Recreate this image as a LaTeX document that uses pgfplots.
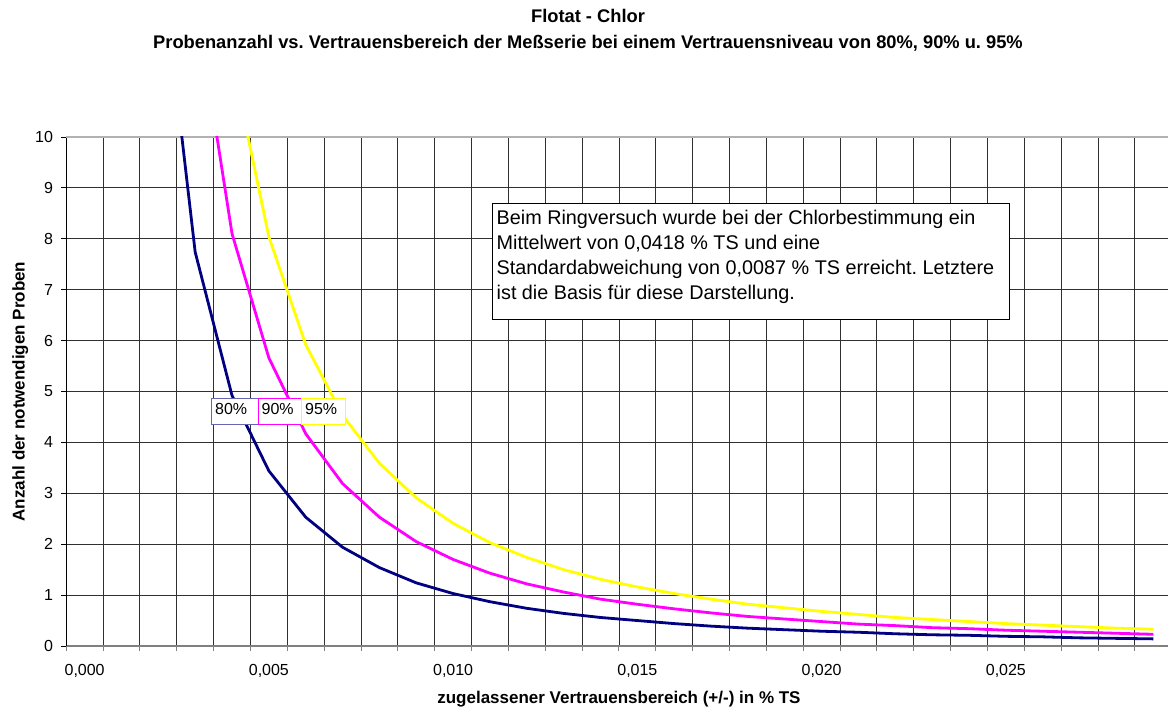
\documentclass[border=0pt]{standalone}
\usepackage{fontspec}
\setmainfont{Liberation Sans}
\usepackage{pgfplots}
\pgfplotsset{compat=1.18}
\usepackage{pgfplotstable}
\frenchspacing
\definecolor{navyc}{HTML}{000080}
\definecolor{magc}{HTML}{FF00FF}
\definecolor{yelc}{HTML}{FFFF00}
\definecolor{gridc}{HTML}{303030}

\pgfplotstableread{
E     n80   n90   n95
0.002 14.00 23.06 32.75
0.003 7.74  12.75 18.11
0.004 4.92  8.10  11.50
0.005 3.44  5.66  8.04
0.006 2.53  4.17  5.92
0.007 1.94  3.19  4.53
0.008 1.54  2.53  3.59
0.009 1.24  2.05  2.91
0.010 1.03  1.70  2.41
0.011 0.87  1.43  2.03
0.012 0.74  1.22  1.74
0.013 0.64  1.06  1.50
0.014 0.56  0.92  1.31
0.015 0.50  0.82  1.16
0.016 0.44  0.73  1.03
0.017 0.39  0.65  0.92
0.018 0.35  0.58  0.82
0.019 0.32  0.53  0.75
0.020 0.29  0.48  0.68
0.021 0.27  0.43  0.62
0.022 0.24  0.40  0.56
0.023 0.22  0.36  0.52
0.024 0.21  0.34  0.48
0.025 0.19  0.31  0.44
0.026 0.18  0.29  0.41
0.027 0.16  0.27  0.38
0.028 0.15  0.25  0.35
0.029 0.14  0.23  0.33
}\datatable

\begin{document}
\frenchspacing
\begin{tikzpicture}[x=1pt,y=1pt]
\path[use as bounding box] (0,0) rectangle (1168,711);
\begin{axis}[
  at={(66.2pt,65pt)}, anchor=south west,
  scale only axis, width=1105.5pt, height=509pt,
  xmin=-0.0005, xmax=0.0295, ymin=0, ymax=10,
  scaled x ticks=false, scaled y ticks=false,
  axis x line*=bottom, axis y line*=left,
  x axis line style={draw=gray, line width=1.6pt, -},
  y axis line style={draw=black, line width=1pt, -},
  xtick={0,0.005,0.01,0.015,0.02,0.025},
  xticklabels={{0,000},{0,005},{0,010},{0,015},{0,020},{0,025}},
  minor xtick={-0.0005,0.0005,...,0.0295},
  xminorgrids, xmajorgrids=false,
  minor grid style={gridc, line width=0.9pt},
  x tick label style={anchor=base, yshift=-24.5pt},
  ytick={0,1,...,9},
  yticklabels={0,1,2,3,4,5,6,7,8,9},
  extra y ticks={10},
  extra y tick labels={10},
  extra y tick style={major grid style={black!30, line width=1.2pt}},
  ymajorgrids,
  major grid style={gridc, line width=0.9pt},
  tick align=outside,
  x tick style={gray, line width=1pt},
  major x tick style={draw=none},
  minor x tick style={gray, line width=1pt},
  minor tick length=5pt,
  major tick length=5pt,
  y tick style={black, line width=0.9pt},
  tick label style={font=\fontsize{16}{19}\selectfont},
  yticklabel style={anchor=east, inner sep=0pt, xshift=-8pt},
  xlabel={zugelassener Vertrauensbereich (+/-) in \% TS},
  ylabel={Anzahl der notwendigen Proben},
  xlabel style={at={(axis description cs:0.5,0)}, anchor=base, yshift=-58pt,
     font=\fontsize{17}{20}\selectfont\bfseries},
  ylabel style={at={(axis description cs:-0.0416,0.5)}, anchor=center, rotate=0,
     font=\fontsize{17}{20}\selectfont\bfseries},
]
\addplot[navyc, line width=2.8pt] table[x=E, y=n80] {\datatable};
\addplot[magc, line width=2.8pt] table[x=E, y=n90] {\datatable};
\addplot[yelc, line width=2.8pt] table[x=E, y=n95] {\datatable};
\end{axis}
% title
\node[anchor=base, font=\fontsize{18.3}{21}\selectfont\bfseries] at (588,688) {Flotat - Chlor};
\node[anchor=base, font=\fontsize{18.3}{21}\selectfont\bfseries] at (588,662) {Probenanzahl vs. Vertrauensbereich der Meßserie bei einem Vertrauensniveau von 80\%, 90\% u. 95\%};
% text box
\draw[black, line width=1pt, fill=white] (492.8,391.7) rectangle (1009.3,507.2);
\begin{scope}[every node/.style={anchor=base west, inner sep=0pt, font=\fontsize{19.8}{25}\selectfont}]
\node at (496.5,486) {Beim Ringversuch wurde bei der Chlorbestimmung ein};
\node at (496.5,461) {Mittelwert von 0,0418 \% TS und eine};
\node at (496.5,436) {Standardabweichung von 0,0087 \% TS erreicht. Letztere};
\node at (496.5,411) {ist die Basis für diese Darstellung.};
\end{scope}
% series labels
\draw[navyc!60, line width=1pt, fill=white] (211.7,286) rectangle (258.3,312.7);
\draw[magc, line width=1pt, fill=white] (258.3,286) rectangle (301.7,312.7);
\draw[yelc, line width=1pt, fill=white] (301.7,286) rectangle (345.7,312.7);
\begin{scope}[every node/.style={anchor=base west, inner sep=0pt, font=\fontsize{16}{19}\selectfont}]
\node at (215,296) {80\%};
\node at (261.5,296) {90\%};
\node at (305,296) {95\%};
\end{scope}
\end{tikzpicture}
\end{document}
